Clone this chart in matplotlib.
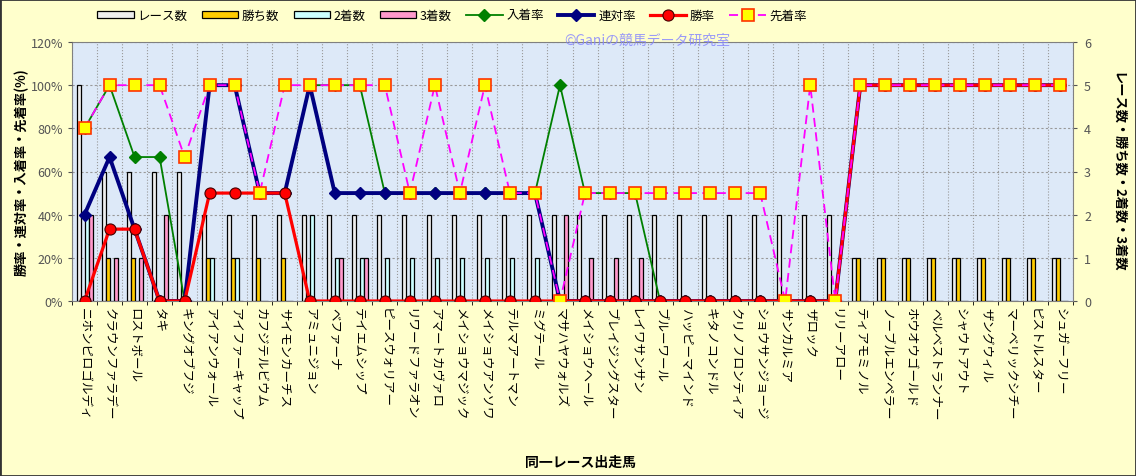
import numpy as np
import matplotlib
matplotlib.use("Agg")
import matplotlib.pyplot as plt
from matplotlib.patches import Rectangle

plt.rcParams['font.family'] = ['Noto Sans CJK JP', 'DejaVu Sans']

horses = ["ニホンピロゴルディ", "クラウンファラデー", "ロストボール", "タキ", "キングオブフジ",
          "アイアンウォール", "アイファーキャップ", "カフジテルビウム", "サイモンカーチス", "アミュニジョン",
          "ベファーナ", "テイエムシップ", "ピースウォリアー", "リワードファラオン", "アマートカヴァロ",
          "メイショウマジック", "メイショウアンソワ", "テルマアートマン", "ミグテール", "マサハヤウォルズ",
          "メイショウヘール", "ブレイジングスター", "レイワサンサン", "ブルーワール", "ハッピーマインド",
          "キタノコンドル", "クリノフロンティア", "ショウサンジョージ", "サンカルミア", "ザロック",
          "リリーアロー", "ティアモミノル", "ノーブルエンペラー", "ホウオウゴールド", "ベルベストランナー",
          "シャウトアウト", "ザングウィル", "マーベリックシチー", "ピストルスター", "シュガーフリー"]

races  = [5, 3, 3, 3, 3, 2, 2, 2, 2, 2, 2, 2, 2, 2, 2, 2, 2, 2, 2, 2,
          2, 2, 2, 2, 2, 2, 2, 2, 2, 2, 2, 1, 1, 1, 1, 1, 1, 1, 1, 1]
wins   = [0, 1, 1, 0, 0, 1, 1, 1, 1, 0, 0, 0, 0, 0, 0, 0, 0, 0, 0, 0,
          0, 0, 0, 0, 0, 0, 0, 0, 0, 0, 0, 1, 1, 1, 1, 1, 1, 1, 1, 1]
second = [2, 0, 0, 0, 0, 1, 1, 0, 0, 2, 1, 1, 1, 1, 1, 1, 1, 1, 1, 0,
          0, 0, 0, 0, 0, 0, 0, 0, 0, 0, 0, 0, 0, 0, 0, 0, 0, 0, 0, 0]
third  = [2, 1, 1, 2, 0, 0, 0, 0, 0, 0, 1, 1, 0, 0, 0, 0, 0, 0, 0, 2,
          1, 1, 1, 0, 0, 0, 0, 0, 0, 0, 0, 0, 0, 0, 0, 0, 0, 0, 0, 0]

place_rate = [80, 100, 66.7, 66.7, 0, 100, 100, 50, 50, 100, 100, 100, 50, 50, 50, 50, 50, 50, 50, 100,
              50, 50, 50, 0, 0, 0, 0, 0, 0, 0, 0, 100, 100, 100, 100, 100, 100, 100, 100, 100]
rentai_rate = [40, 66.7, 33.3, 0, 0, 100, 100, 50, 50, 100, 50, 50, 50, 50, 50, 50, 50, 50, 50, 0,
               0, 0, 0, 0, 0, 0, 0, 0, 0, 0, 0, 100, 100, 100, 100, 100, 100, 100, 100, 100]
win_rate = [0, 33.3, 33.3, 0, 0, 50, 50, 50, 50, 0, 0, 0, 0, 0, 0, 0, 0, 0, 0, 0,
            0, 0, 0, 0, 0, 0, 0, 0, 0, 0, 0, 100, 100, 100, 100, 100, 100, 100, 100, 100]
ahead_rate = [80, 100, 100, 100, 66.7, 100, 100, 50, 100, 100, 100, 100, 100, 50, 100, 50, 100, 50, 50, 0,
              50, 50, 50, 50, 50, 50, 50, 50, 0, 100, 0, 100, 100, 100, 100, 100, 100, 100, 100, 100]

W, H = 1136, 477
fig = plt.figure(figsize=(W/100, H/100), dpi=100, facecolor='#FFFFCC')
fig.patches.append(Rectangle((0, 0), 1, 1, transform=fig.transFigure, fill=False,
                             edgecolor='#333333', lw=2, zorder=10))

L, R, T, B = 72, 1073, 43, 302
ax = fig.add_axes([L/W, 1-B/H, (R-L)/W, (B-T)/H])
ax.set_facecolor('#dde9f8')
n = len(horses)
x = np.arange(n)
bw = 0.16

ax.bar(x - 1.5*bw, races, bw, color='#eeeeee', edgecolor='black', lw=0.9, label='レース数', zorder=3)
ax.bar(x - 0.5*bw, wins, bw, color='#FFCC00', edgecolor='black', lw=0.9, label='勝ち数', zorder=3)
ax.bar(x + 0.5*bw, second, bw, color='#CCFFFF', edgecolor='black', lw=0.9, label='2着数', zorder=3)
ax.bar(x + 1.5*bw, third, bw, color='#FF99CC', edgecolor='black', lw=0.9, label='3着数', zorder=3)
ax.set_ylim(0, 6)
ax.set_xlim(-0.5, n - 0.5)

ax.set_xticks(x)
ax.set_xticklabels(horses, rotation=270, fontsize=9)
ax.tick_params(axis='x', length=0, pad=4)
ax.set_xticks(np.arange(-0.5, n, 1), minor=True)
ax.tick_params(axis='x', which='minor', length=3)
ax.grid(axis='x', which='minor', color='#999999', ls=':', lw=0.8, zorder=0)
ax.set_axisbelow(True)
for y in range(1, 7):
    ax.axhline(y, color='#999999', ls=(0, (2, 2)), lw=0.8, zorder=1)
for s in ax.spines.values():
    s.set_color('#808080')

ax2 = ax.twinx()
# counts on the right, percentages on the left
ax.yaxis.tick_right()
ax.yaxis.set_label_position('right')
ax.set_yticks(range(7))
ax.tick_params(axis='y', colors='#555555', labelsize=9, length=3, pad=5)
ax.set_ylabel('レース数・勝ち数・2着数・3着数', rotation=270, fontsize=9.5, fontweight='bold',
              color='black', va='center')
ax.yaxis.set_label_coords((1118 - L) / (R - L), 0.5)

ax2.yaxis.tick_left()
ax2.yaxis.set_label_position('left')
ax2.plot(x, place_rate, color='#008000', lw=1.3, marker='D', ms=6, mfc='#008000', mec='#008000', label='入着率', zorder=4)
ax2.plot(x, rentai_rate, color='#000080', lw=2.8, marker='D', ms=6, mfc='#000080', mec='#000080', label='連対率', zorder=5)
ax2.plot(x, win_rate, color='#FF0000', lw=2.3, marker='o', ms=8, mfc='#FF0000', mec='#440000', mew=0.8, label='勝率', zorder=6)
ax2.plot(x, ahead_rate, color='#FF00FF', lw=1.3, ls=(0, (5, 3)), marker='s', ms=8, mfc='#FFFF00', mec='#FF3300', mew=1.2, label='先着率', zorder=7)
ax2.set_ylim(0, 120)
ax2.set_yticks(range(0, 121, 20))
ax2.set_yticklabels([f'{v}%' for v in range(0, 121, 20)])
ax2.tick_params(axis='y', colors='#555555', labelsize=9, length=3)
ax2.set_ylabel('勝率・連対率・入着率・先着率(%)', fontsize=9.5, fontweight='bold', color='black', va='center')
ax2.yaxis.set_label_coords((22 - L) / (R - L), 0.5)
for s in ax2.spines.values():
    s.set_visible(False)

fig.text(647/W, 1-41/H, '©Ganiの競馬データ研究室', color='#8888ff', alpha=0.85, fontsize=10,
         ha='center', va='center')
fig.text(580/W, 1-463/H, '同一レース出走馬', fontsize=10, fontweight='bold', ha='center', va='center')

h1, l1 = ax.get_legend_handles_labels()
h2, l2 = ax2.get_legend_handles_labels()
fig.legend(h1 + h2, l1 + l2, ncol=8, loc='center left', bbox_to_anchor=(86/W, 1-16/H),
           frameon=False, fontsize=9, handlelength=2.9, handleheight=0.5, columnspacing=1.15,
           handletextpad=0.3)

fig.savefig('out.png', dpi=100, facecolor=fig.get_facecolor())
